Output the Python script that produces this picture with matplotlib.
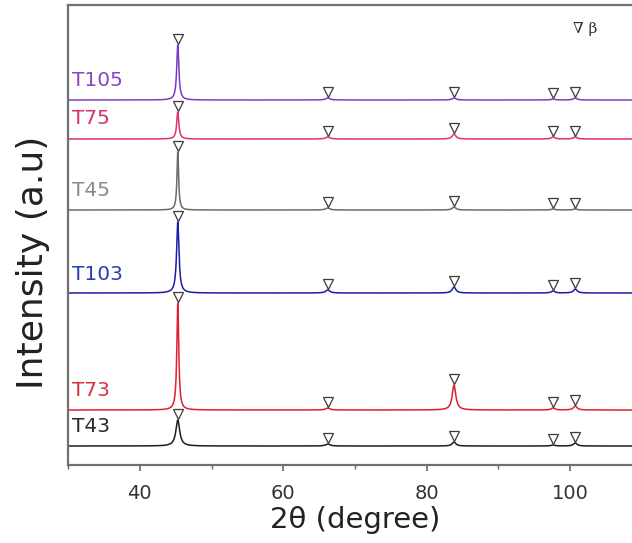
import numpy as np
import matplotlib
matplotlib.use("Agg")
import matplotlib.pyplot as plt
from matplotlib.ticker import MultipleLocator

# beta-phase reflections (2theta, degree)
peak_pos = [45.3, 66.2, 83.8, 97.6, 100.7]
peak_hwhm = [0.2, 0.35, 0.3, 0.3, 0.3]

samples = ["T43", "T73", "T103", "T45", "T75", "T105"]
baselines = [19, 55, 172, 255, 326, 365]
heights = {
    "T43":  [26, 2, 4, 1, 3],
    "T73":  [107, 2, 25, 2, 4],
    "T103": [71, 3, 6, 2, 4],
    "T45":  [58, 2, 3, 1, 1],
    "T75":  [27, 2, 5, 2, 2],
    "T105": [55, 2, 2, 1, 2],
}
main_width = [0.32, 0.16, 0.2, 0.14, 0.18, 0.18]
line_colors = ["#1e1e1e", "#e0202e", "#1c1ca8", "#6a6a6a", "#e0306e", "#7a3cc8"]
label_colors = ["#2a2a2a", "#d8303a", "#2a3cb0", "#8a8a8a", "#d8306a", "#8a44c8"]
label_y = [38, 75, 191, 275, 347, 385]

fig = plt.figure(figsize=(6.32, 5.43), dpi=100)
ax = fig.add_axes([68 / 632, 78 / 543, 574 / 632, 460 / 543])

tt = np.linspace(30, 110, 8001)
for i, name in enumerate(samples):
    h = heights[name]
    widths = [main_width[i]] + peak_hwhm[1:]
    y = np.full_like(tt, baselines[i], dtype=float)
    for c, w, a in zip(peak_pos, widths, h):
        y += a / (1 + ((tt - c) / w) ** 2)
    ax.plot(tt, y, color=line_colors[i], lw=1.1, zorder=2)
    # peak markers
    ax.plot(peak_pos, [baselines[i] + a + 6 for a in h], ls="none", marker="v",
            ms=7.5, mfc="white", mec="#3a3a3a", mew=0.9, zorder=3)
    ax.text(30.55, label_y[i], name, color=label_colors[i], fontsize=14.5,
            ha="left", va="center")

ax.text(100.4, 436, "\u2207 \u03b2", fontsize=11, family="DejaVu Serif",
        color="#333333", ha="left", va="center")

ax.set_xlim(30, 110)
ax.set_ylim(0, 460)
ax.set_yticks([])
ax.xaxis.set_major_locator(MultipleLocator(20))
ax.xaxis.set_minor_locator(MultipleLocator(10))
ax.tick_params(axis="x", which="major", direction="out", length=4, width=1.2,
               color="#666666", labelsize=14, pad=10, labelcolor="#333333")
ax.tick_params(axis="x", which="minor", direction="out", length=3, width=1.0,
               color="#666666")
for s in ax.spines.values():
    s.set_color("#707070")
    s.set_linewidth(1.6)

ax.set_xlabel("2\u03b8 (degree)", fontsize=21, color="#222222", labelpad=2)
ax.set_ylabel("Intensity (a.u)", fontsize=26, color="#222222")
ax.yaxis.set_label_coords(-0.031, 0.44)

fig.savefig("out.png", dpi=100)
